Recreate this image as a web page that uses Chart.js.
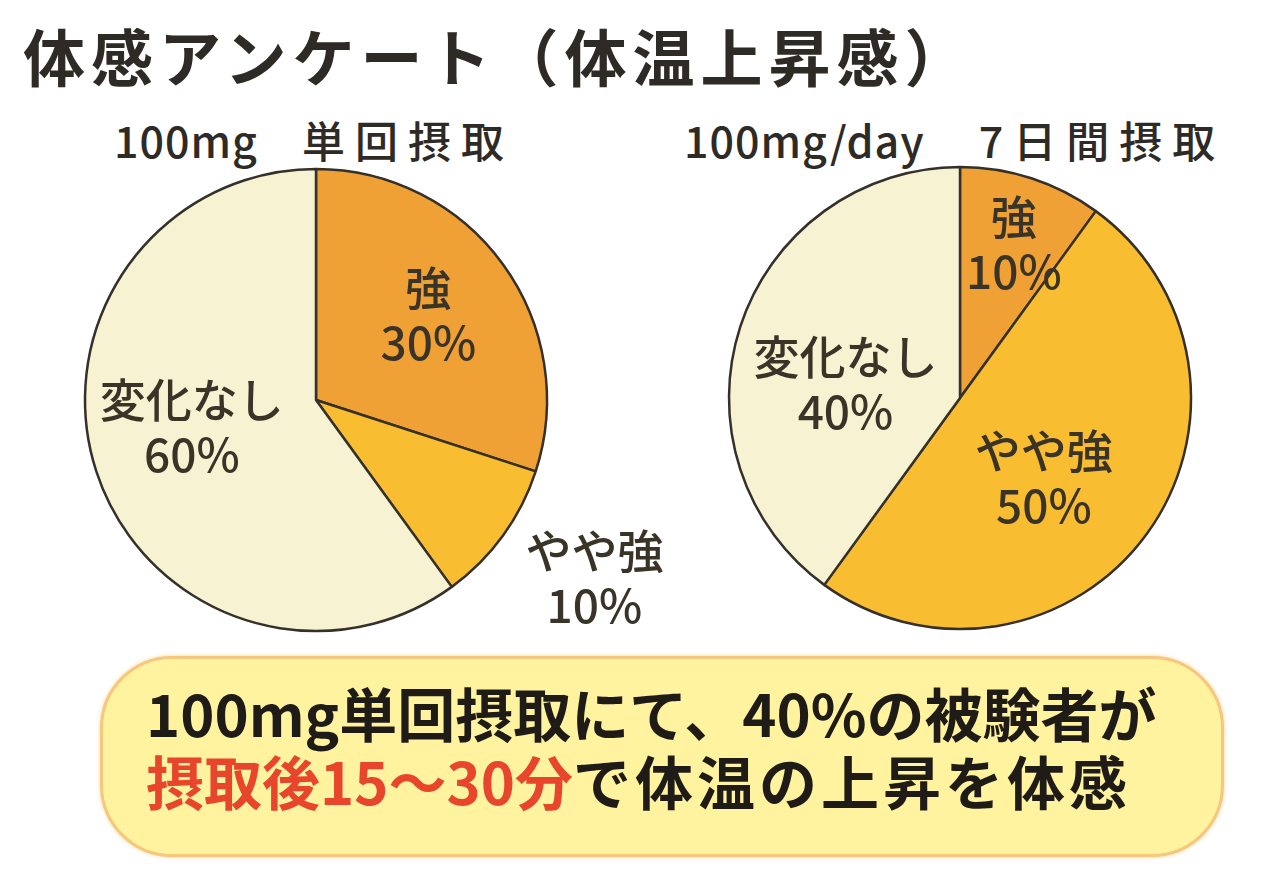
<!DOCTYPE html>
<html>
<head>
<meta charset="utf-8">
<script src="https://cdn.jsdelivr.net/npm/chart.js@4"></script>
<style>
  html, body { margin: 0; padding: 0; background: #fff; }
  body { width: 1280px; height: 881px; position: relative; overflow: hidden;
         font-family: "Noto Sans CJK JP", "Noto Sans", sans-serif; color: #2e2a25; }
  .txt { position: absolute; white-space: nowrap; }
  #title { left: 23px; top: 15px; font-size: 62px; font-weight: 700; letter-spacing: 6px; line-height: 80px; }
  .sub { top: 104px; font-size: 43px; font-weight: 500; line-height: 70px; letter-spacing: 1px; }
  .sub .jp { letter-spacing: 10px; }
  canvas { position: absolute; }
  #box { position: absolute; left: 100px; top: 656px; width: 1124px; height: 201px;
         border-radius: 72px; background: #fff39f; border: 3px solid #f6c77c; box-sizing: border-box;
         box-shadow: 0 0 4px #f8d59a; }
  .line { left: 146px; font-size: 58px; font-weight: 700; line-height: 70px; color: #1f1b17; }
  .red { color: #e8462c; }
  .wide { letter-spacing: 4px; }
</style>
</head>
<body>
<div id="title" class="txt">体感アンケート（体温上昇感）</div>
<div class="txt sub" style="left:114px">100mg<span class="jp" style="margin-left:44px">単回摂取</span></div>
<div class="txt sub" style="left:684px">100mg/day<span class="jp" style="margin-left:54px">7日間摂取</span></div>

<canvas id="pieA" width="780" height="560" style="left:-4px; top:120px"></canvas>
<canvas id="pieB" width="640" height="560" style="left:640px; top:118px"></canvas>

<div id="box"></div>
<div class="txt line" style="top:677px">100mg単回摂取にて、40%の被験者が</div>
<div class="txt line" style="top:745px"><span class="red">摂取後15～30分</span><span class="wide">で体温の上昇を体感</span></div>

<script>
// 回答カテゴリと割合（%）
const categories = ['強', 'やや強', '変化なし'];
const singleDose = [30, 10, 60];   // 100mg 単回摂取
const sevenDays = [10, 50, 40];    // 100mg/day 7日間摂取

const sliceColors = ['#f0a136', '#f8bd30', '#f7f3d2'];

// ラベルを扇形の中（または外）に描く
const sliceLabels = {
  id: 'sliceLabels',
  afterDatasetsDraw(chart, args, opts) {
    const ctx = chart.ctx;
    const meta = chart.getDatasetMeta(0);
    const values = chart.data.datasets[0].data;
    meta.data.forEach((arc, i) => {
      const p = arc.getProps(['x', 'y', 'startAngle', 'endAngle', 'outerRadius'], true);
      const mid = (p.startAngle + p.endAngle) / 2 + (opts.shift[i] || 0);
      const r = p.outerRadius * opts.dist[i];
      const x = p.x + Math.cos(mid) * r;
      const y = p.y + Math.sin(mid) * r;
      ctx.save();
      ctx.fillStyle = '#3a3328';
      ctx.font = '500 46px "Noto Sans CJK JP", sans-serif';
      ctx.textAlign = 'center';
      ctx.textBaseline = 'middle';
      ctx.fillText(chart.data.labels[i], x, y - 27);
      ctx.fillText(values[i] + '%', x, y + 28);
      ctx.restore();
    });
  }
};

function makePie(id, values, dist, shift, radius, padRight) {
  return new Chart(document.getElementById(id), {
    type: 'pie',
    data: {
      labels: categories,
      datasets: [{
        data: values,
        backgroundColor: sliceColors,
        borderColor: '#35302a',
        borderWidth: 2.5
      }]
    },
    options: {
      responsive: false,
      animation: false,
      radius: radius,
      layout: { padding: { right: padRight } },
      plugins: {
        legend: { display: false },
        tooltip: { enabled: false },
        sliceLabels: { dist: dist, shift: shift }
      }
    },
    plugins: [sliceLabels]
  });
}

makePie('pieA', singleDose, [0.61, 1.43, 0.55], [-0.02, -0.06, 0.10], 231, 140);
makePie('pieB', sevenDays, [0.71, 0.5, 0.5], [0.02, 0.13, -0.185], 231, 0);
</script>
</body>
</html>
